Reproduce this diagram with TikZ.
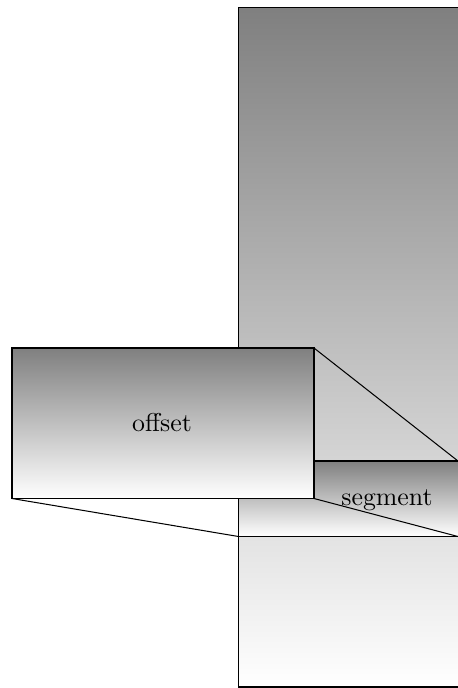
\documentclass[tikz,border=0pt]{standalone}
\begin{document}
\begin{tikzpicture}[x=0.3876pt,y=-0.3876pt,
  shade box/.style={draw=black,line width=0.4pt,top color=gray,bottom color=white},
  link/.style={draw=black,line width=0.4pt}]
\useasboundingbox (0,0) rectangle (458,688);
\clip (0,0) rectangle (458,688);
% tall background strip
\path[shade box] (238.5,7.5) rectangle (470,687);
% segment box
\path[shade box] (238.5,461) rectangle (470,536.5);
\node (seglabel) at (387,500) {segment};
\coordinate (segTL) at (238.5,461);
\coordinate (segTR) at (458,461);
\coordinate (segBL) at (238.5,536.5);
\coordinate (segBR) at (458,536.5);
% projection lines from offset corners
\coordinate (offTL) at (12,348);
\coordinate (offTR) at (314,348);
\coordinate (offBL) at (12,498.5);
\coordinate (offBR) at (314,498.5);
\draw[link] (offTR) -- (segTR);
\draw[link] (offBL) -- (segBL);
\draw[link] (offBR) -- (segBR);
% offset box on top
\path[shade box] (offTL) rectangle (offBR);
\node (offlabel) at (162,423) {offset};
\end{tikzpicture}
\end{document}
